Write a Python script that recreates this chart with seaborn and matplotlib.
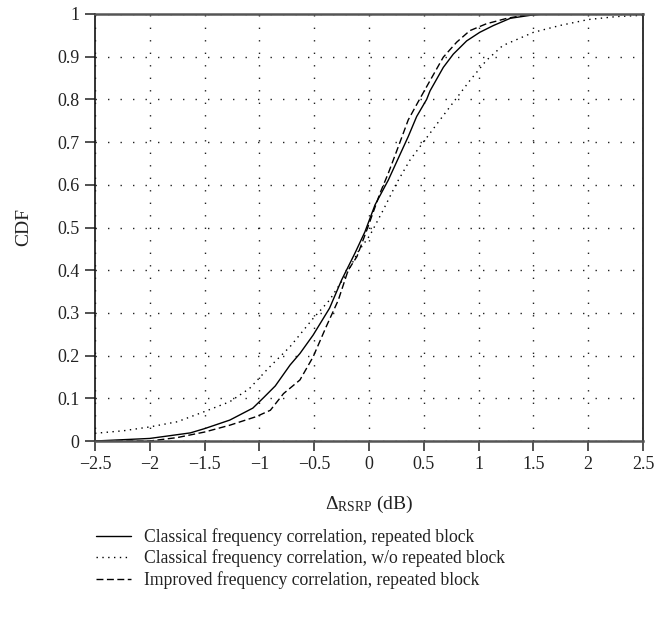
import matplotlib
matplotlib.use("Agg")
import matplotlib.pyplot as plt
import seaborn as sns
import pandas as pd

# ---- data ----
solid_x = [-2.5, -2.0, -1.63, -1.5, -1.27, -1.06, -0.96, -0.855, -0.72, -0.63, -0.51, -0.36,
           -0.25, -0.128, -0.037, 0.055, 0.176, 0.267, 0.358, 0.435, 0.526, 0.557, 0.678,
           0.769, 0.891, 1.01, 1.135, 1.29, 1.50, 1.6, 2.5]
solid_y = [0.0, 0.006, 0.019, 0.029, 0.049, 0.077, 0.102, 0.129, 0.178, 0.205, 0.248, 0.311,
           0.377, 0.44, 0.49, 0.553, 0.611, 0.662, 0.713, 0.76, 0.80, 0.82, 0.875,
           0.906, 0.937, 0.957, 0.973, 0.99, 0.998, 1.0, 1.0]

dotted_x = [-2.5, -2.24, -2.0, -1.75, -1.5, -1.27, -1.09, -0.92, -0.72, -0.51, -0.36, -0.20,
            -0.10, 0.009, 0.13, 0.25, 0.374, 0.496, 0.63, 0.769, 0.92, 1.07, 1.22, 1.50,
            1.74, 2.0, 2.26, 2.5]
dotted_y = [0.018, 0.024, 0.033, 0.045, 0.069, 0.092, 0.123, 0.17, 0.221, 0.287, 0.33, 0.393,
            0.443, 0.482, 0.541, 0.603, 0.658, 0.70, 0.746, 0.793, 0.844, 0.891, 0.926, 0.957,
            0.973, 0.987, 0.994, 0.997]

dashed_x = [-2.5, -2.0, -1.75, -1.5, -1.27, -1.03, -0.90, -0.78, -0.63, -0.51, -0.39, -0.28,
            -0.19, -0.11, -0.02, 0.10, 0.176, 0.267, 0.358, 0.45, 0.557, 0.678, 0.80, 0.92,
            1.07, 1.26, 1.44, 1.6, 2.5]
dashed_y = [0.0, 0.0, 0.008, 0.021, 0.037, 0.057, 0.072, 0.111, 0.143, 0.197, 0.268, 0.33,
            0.40, 0.432, 0.494, 0.58, 0.627, 0.689, 0.752, 0.795, 0.844, 0.899, 0.934, 0.961,
            0.977, 0.99, 0.998, 1.0, 1.0]

labels = ["Classical frequency correlation, repeated block",
          "Classical frequency correlation, w/o repeated block",
          "Improved frequency correlation, repeated block"]

x_ticks = [-2.5, -2, -1.5, -1, -0.5, 0, 0.5, 1, 1.5, 2, 2.5]
x_ticklabels = ["\u22122.5", "\u22122", "\u22121.5", "\u22121", "\u22120.5", "0", "0.5", "1", "1.5", "2", "2.5"]
y_ticks = [0, 0.1, 0.2, 0.3, 0.4, 0.5, 0.6, 0.7, 0.8, 0.9, 1.0]
y_ticklabels = ["0", "0.1", "0.2", "0.3", "0.4", "0.5", "0.6", "0.7", "0.8", "0.9", "1"]

sns.set_theme(style="white")
plt.rcParams["font.family"] = ["Liberation Serif", "DejaVu Serif"]
plt.rcParams["mathtext.fontset"] = "custom"
plt.rcParams["mathtext.rm"] = "Liberation Serif"
plt.rcParams["mathtext.it"] = "Liberation Serif:italic"

fig = plt.figure(figsize=(6.54, 6.23), dpi=100)
ax = fig.add_axes([95 / 654, 1 - 441 / 623, (643 - 95) / 654, (441 - 14) / 623])

series = [(solid_x, solid_y, "-"), (dotted_x, dotted_y, (0, (1, 3.2))), (dashed_x, dashed_y, (0, (5, 2.5)))]
handles = []
for (xs, ys, ls), lab in zip(series, labels):
    df = pd.DataFrame({"x": xs, "y": ys})
    sns.lineplot(data=df, x="x", y="y", ax=ax, color="black", linewidth=1.0,
                 linestyle=ls, sort=False, estimator=None, label=lab, legend=False)
    handles.append(ax.lines[-1])

ax.set_xlim(-2.5, 2.5)
ax.set_ylim(0, 1)
ax.set_xticks(x_ticks)
ax.set_xticklabels(x_ticklabels)
ax.set_yticks(y_ticks)
ax.set_yticklabels(y_ticklabels)
ax.grid(True, color="#222222", linestyle=(0, (1, 8)), linewidth=1.0)
ax.tick_params(axis="both", direction="out", length=7, width=1.2, color="#333333",
               labelsize=13, labelcolor="#222222", pad=4, bottom=True, left=True)

for side in ["top", "bottom"]:
    ax.spines[side].set_color("#555555")
    ax.spines[side].set_linewidth(1.8)
for side in ["left", "right"]:
    ax.spines[side].set_color("#111111")
    ax.spines[side].set_linewidth(1.2)

ax.set_xlabel("\u0394$_{\\mathrm{RSRP}}$ (dB)", fontsize=14, color="#222222", labelpad=15)
ax.set_ylabel("CDF", fontsize=14, color="#222222", labelpad=18)

fig.legend(handles, labels, loc="upper left", bbox_to_anchor=(96 / 654, 1 - 528 / 623),
           frameon=False, fontsize=12.7, handlelength=2.0, handletextpad=0.7,
           labelspacing=0.2, borderaxespad=0, borderpad=0, labelcolor="#222222")

fig.savefig("out.png", dpi=100)
